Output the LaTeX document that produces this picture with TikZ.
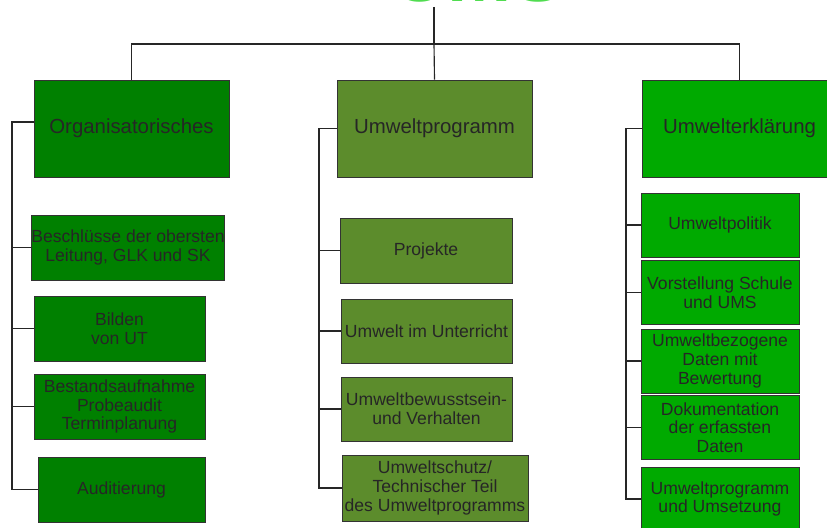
\documentclass[tikz,border=0pt]{standalone}
\usepackage{fontspec}
\setmainfont{Liberation Sans}
\definecolor{dunkelgruen}{RGB}{0,128,0}
\definecolor{olivgruen}{RGB}{92,140,44}
\definecolor{hellgruen}{RGB}{0,170,0}
\definecolor{titelgruen}{RGB}{80,220,80}

\begin{document}
\begin{tikzpicture}[x=0.02cm,y=-0.02cm,
    kopf/.style={draw=black!80, minimum width=3.9cm, minimum height=1.94cm, inner sep=0pt, text=black!85, font=\fontsize{11.6}{14}\selectfont},
    teil/.style={draw=black!80, inner sep=0pt, align=center, text=black!85, font=\fontsize{10}{10.6}\selectfont},
    linie/.style={black!85, line width=0.65pt}]
    \useasboundingbox (0,0) rectangle (827,527);

    % Titel, oben abgeschnitten
    \begin{scope}
    \clip (0,0) rectangle (827,527);
    \node[text=titelgruen, font=\bfseries\fontsize{44}{44}\selectfont] (titel) at (478,-25) {UMS};
    \end{scope}

    % Kopfkaesten
    \node[kopf, fill=dunkelgruen] (org) at (131.5,128.5) {Organisatorisches};
    \node[kopf, fill=olivgruen] (prog) at (434.5,128.5) {Umweltprogramm};
    \node[kopf, fill=hellgruen] (erkl) at (739.5,128.5) {Umwelterklärung};

    % linke Spalte
    \node[teil, fill=dunkelgruen, minimum width=3.76cm, minimum height=1.3cm] (besch) at (128,247.5) {Beschlüsse der obersten\\Leitung, GLK und SK};
    \node[teil, fill=dunkelgruen, minimum width=3.42cm, minimum height=1.3cm] (bilden) at (119.5,328.5) {Bilden\\von UT};
    \node[teil, fill=dunkelgruen, minimum width=3.42cm, minimum height=1.3cm] (bestand) at (119.5,406.5) {Bestandsaufnahme\\Probeaudit\\Terminplanung};
    \node[teil, fill=dunkelgruen, minimum width=3.34cm, minimum height=1.3cm] (audit) at (121.5,489.5) {Auditierung};

    % mittlere Spalte
    \node[teil, fill=olivgruen, minimum width=3.44cm, minimum height=1.3cm] (proj) at (426,250.5) {Projekte};
    \node[teil, fill=olivgruen, minimum width=3.42cm, minimum height=1.28cm] (unterricht) at (426.5,331) {Umwelt im Unterricht};
    \node[teil, fill=olivgruen, minimum width=3.42cm, minimum height=1.28cm] (bewusst) at (426.5,409) {Umweltbewusstsein-\\und Verhalten};
    \node[teil, fill=olivgruen, minimum width=3.72cm, minimum height=1.32cm] (schutz) at (435,488) {Umweltschutz/\\Technischer Teil\\des Umweltprogramms};

    % rechte Spalte
    \node[teil, fill=hellgruen, minimum width=3.16cm, minimum height=1.28cm] (politik) at (720,225) {Umweltpolitik};
    \node[teil, fill=hellgruen, minimum width=3.16cm, minimum height=1.28cm] (vorst) at (720,292.5) {Vorstellung Schule\\und UMS};
    \node[teil, fill=hellgruen, minimum width=3.16cm, minimum height=1.28cm] (bezogen) at (720,361) {Umweltbezogene\\Daten mit\\Bewertung};
    \node[teil, fill=hellgruen, minimum width=3.16cm, minimum height=1.28cm] (doku) at (720,427.5) {Dokumentation\\der erfassten\\Daten};
    \node[teil, fill=hellgruen, minimum width=3.16cm, minimum height=1.28cm] (umsetz) at (720,499) {Umweltprogramm\\und Umsetzung};

    % Baum oben
    \coordinate (wurzel) at (434,7);
    \coordinate (knoten) at (434,44);
    \draw[linie, line width=1.3pt] (wurzel) -- (knoten);
    \draw[linie] (org.north) |- (knoten) -| (erkl.north);
    \draw[linie] (knoten) -- (prog.north);

    % Spalten-Leitungen
    \coordinate (lo) at (12,122);
    \coordinate (mo) at (319,128.5);
    \coordinate (ro) at (626,128.5);
    \draw[linie] (org.west |- lo) -- (lo) |- (audit.west);
    \draw[linie] (prog.west) -- (mo) |- (schutz.west);
    \draw[linie] (erkl.west) -- (ro) |- (umsetz.west);
    \foreach \n in {besch,bilden,bestand}
        \draw[linie] (\n.west) -- (\n.west -| lo);
    \foreach \n in {proj,unterricht,bewusst}
        \draw[linie] (\n.west) -- (\n.west -| mo);
    \foreach \n in {politik,vorst,bezogen,doku}
        \draw[linie] (\n.west) -- (\n.west -| ro);
\end{tikzpicture}
\end{document}
